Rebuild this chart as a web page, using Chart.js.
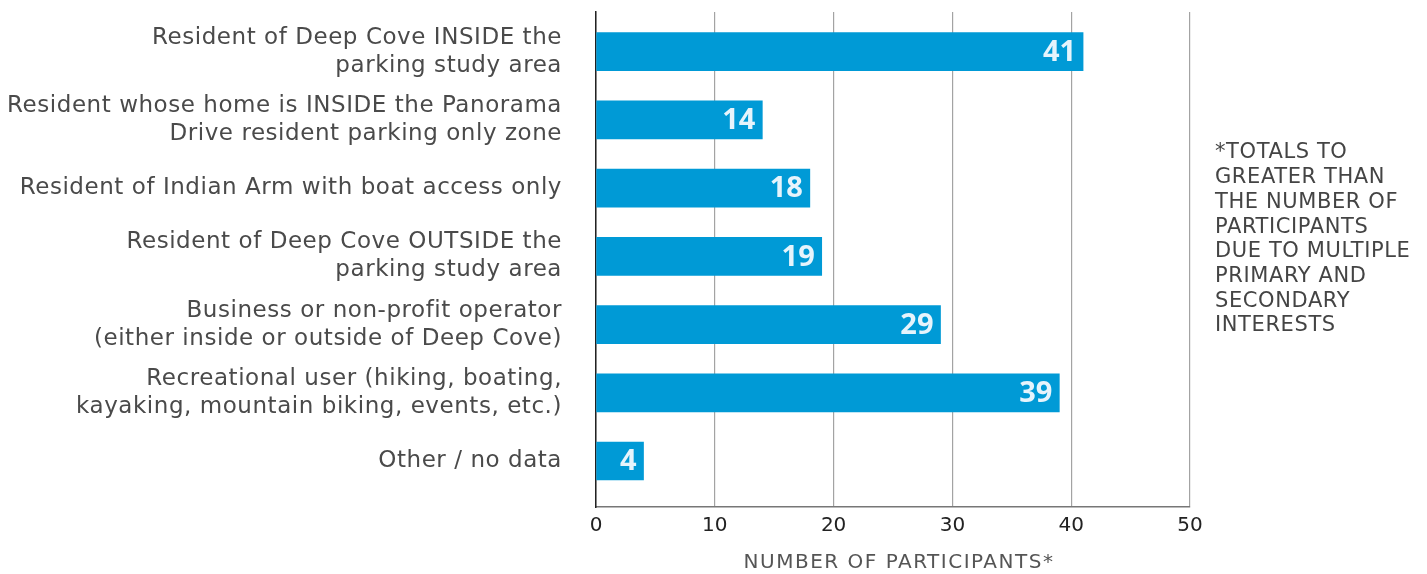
<!DOCTYPE html>
<html>
<head>
<meta charset="utf-8">
<script src="https://cdn.jsdelivr.net/npm/chart.js@4/dist/chart.umd.min.js"></script>
<style>
  html, body { margin: 0; padding: 0; background: #fff; }
  #wrap { position: relative; width: 1427px; height: 574px; }
</style>
</head>
<body>
<div id="wrap"><canvas id="c" width="1427" height="574"></canvas></div>
<script>
const categories = [
  ["Resident of Deep Cove INSIDE the", "parking study area"],
  ["Resident whose home is INSIDE the Panorama", "Drive resident parking only zone"],
  ["Resident of Indian Arm with boat access only"],
  ["Resident of Deep Cove OUTSIDE the", "parking study area"],
  ["Business or non-profit operator", "(either inside or outside of Deep Cove)"],
  ["Recreational user (hiking, boating,", "kayaking, mountain biking, events, etc.)"],
  ["Other / no data"]
];
const participants = [41, 14, 18, 19, 29, 39, 4];
const xTicks = [0, 10, 20, 30, 40, 50];
const axisTitle = "NUMBER OF PARTICIPANTS*";
const noteLines = ["*TOTALS TO", "GREATER THAN", "THE NUMBER OF", "PARTICIPANTS", "DUE TO MULTIPLE", "PRIMARY AND", "SECONDARY", "INTERESTS"];

const FONT = "'DejaVu Sans', sans-serif";
const BOLD = "'Open Sans', 'DejaVu Sans', sans-serif";

const categoryLabels = {
  id: 'categoryLabels',
  afterDraw(chart) {
    const ctx = chart.ctx;
    const ys = chart.scales.y;
    const x = chart.chartArea.left - 34;
    const lh = 28;
    ctx.save();
    ctx.font = "23px " + FONT;
    ctx.letterSpacing = "0.55px";
    ctx.fillStyle = "#4a4a4a";
    ctx.textAlign = "right";
    ctx.textBaseline = "middle";
    categories.forEach((lines, i) => {
      const yc = ys.getPixelForValue(i);
      const y0 = yc - (lines.length - 1) * lh / 2;
      lines.forEach((t, j) => ctx.fillText(t, x, y0 + j * lh));
    });
    ctx.restore();
  }
};

const axisTitleDraw = {
  id: 'axisTitleDraw',
  afterDraw(chart) {
    const ctx = chart.ctx;
    const ca = chart.chartArea;
    ctx.save();
    ctx.font = "20px " + FONT;
    ctx.letterSpacing = "1.5px";
    ctx.fillStyle = "#555";
    ctx.textAlign = "center";
    ctx.textBaseline = "middle";
    ctx.fillText(axisTitle, (ca.left + ca.right) / 2 + 6, 563);
    ctx.restore();
  }
};

const valueLabels = {
  id: 'valueLabels',
  afterDatasetsDraw(chart) {
    const ctx = chart.ctx;
    const meta = chart.getDatasetMeta(0);
    ctx.save();
    ctx.font = "bold 29px " + BOLD;
    ctx.fillStyle = "#e6f4fc";
    ctx.textAlign = "right";
    ctx.textBaseline = "middle";
    meta.data.forEach((bar, i) => {
      ctx.fillText(String(participants[i]), bar.x - 7, bar.y + 1);
    });
    ctx.restore();
  }
};

const sideNote = {
  id: 'sideNote',
  afterDraw(chart) {
    const ctx = chart.ctx;
    ctx.save();
    ctx.font = "21px " + FONT;
    ctx.letterSpacing = "0.6px";
    ctx.fillStyle = "#444";
    ctx.textAlign = "left";
    ctx.textBaseline = "middle";
    noteLines.forEach((t, i) => ctx.fillText(t, 1215, 153 + i * 24.7));
    ctx.restore();
  }
};

new Chart(document.getElementById('c'), {
  type: 'bar',
  data: {
    datasets: [{
      data: participants.map((v, i) => ({ x: v, y: i })),
      backgroundColor: '#009ad6',
      borderWidth: 0,
      barThickness: 38
    }]
  },
  options: {
    indexAxis: 'y',
    responsive: false,
    animation: false,
    layout: { padding: { top: 12, right: 237, left: 0, bottom: 0 } },
    plugins: { legend: { display: false }, tooltip: { enabled: false } },
    scales: {
      x: {
        type: 'linear',
        min: 0, max: 50,
        afterBuildTicks: s => { s.ticks = xTicks.map(v => ({ value: v })); },
        afterFit: s => { s.height = 67; },
        grid: { color: '#a3a3a3', lineWidth: 1.2, drawTicks: false },
        border: { color: '#777', width: 1.5 },
        ticks: { color: '#222', font: { family: FONT, size: 20 }, padding: 7 },
        title: { display: false }
      },
      y: {
        type: 'linear',
        reverse: true,
        offset: false,
        min: -0.582, max: 6.674,
        afterBuildTicks: s => { s.ticks = categories.map((_, i) => ({ value: i })); },
        afterFit: s => { s.width = 596; },
        grid: { display: false, drawTicks: false, offset: false },
        border: { color: '#222', width: 1.5 },
        ticks: { display: false }
      }
    }
  },
  plugins: [valueLabels, categoryLabels, axisTitleDraw, sideNote]
});
</script>
</body>
</html>
